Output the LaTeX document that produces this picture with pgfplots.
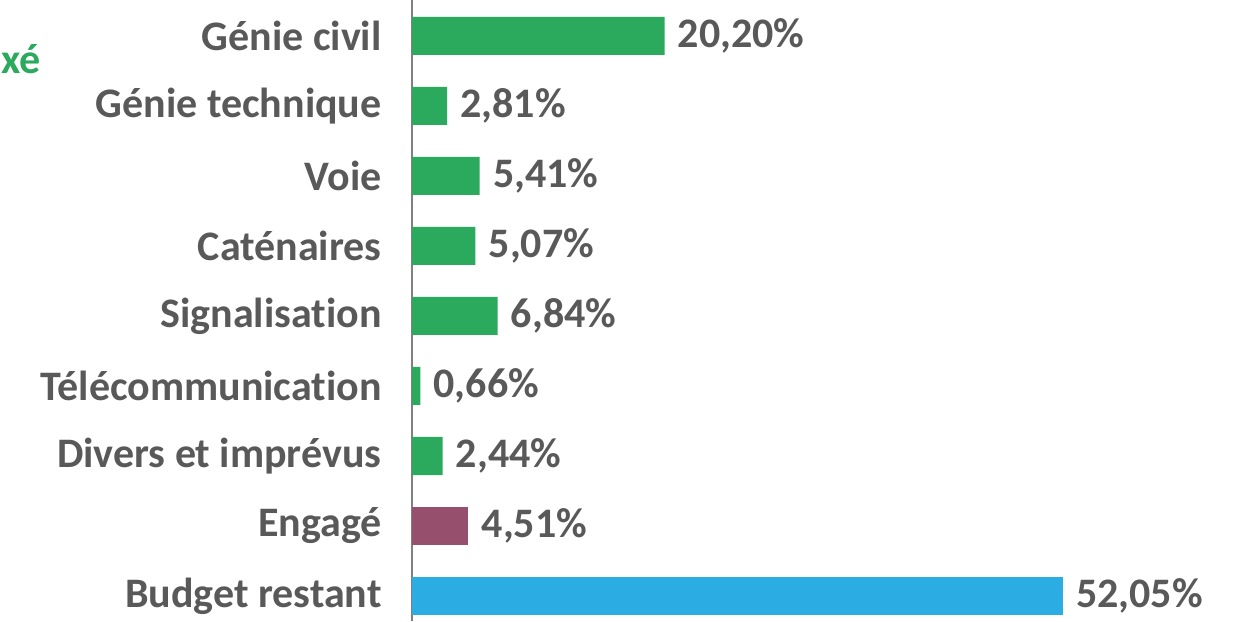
\documentclass[border=0pt]{standalone}
\usepackage{pgfplots}
\pgfplotsset{compat=1.18}
\usepackage{fontspec}
\setmainfont{Carlito}[Ligatures={NoCommon}]
\definecolor{tgray}{HTML}{595959}
\definecolor{cgreen}{HTML}{2BAA5E}
\definecolor{cpurple}{HTML}{974F6E}
\definecolor{cblue}{HTML}{2BACE2}
\definecolor{agray}{HTML}{808080}
\begin{document}
\begin{tikzpicture}
\begin{axis}[
  at={(206pt,0pt)}, anchor=south west,
  scale only axis, width=419.5pt, height=310.5pt,
  xbar, bar width=19pt, bar shift=0pt,
  xmin=0, xmax=67.1,
  ymin=-0.357, ymax=8.514,
  axis x line=none,
  axis y line*=left,
  axis line style={agray, line width=1pt, -},
  ytick={0,...,8},
  yticklabels={Budget restant,Engagé,Divers et imprévus,Télécommunication,Signalisation,Caténaires,Voie,Génie technique,Génie civil},
  major tick length=0pt,
  yticklabel style={font=\fontsize{21}{21}\selectfont\bfseries, text=tgray, inner sep=0pt, xshift=-15pt},
  point meta=explicit symbolic,
  nodes near coords,
  nodes near coords style={font=\fontsize{21}{21}\selectfont\bfseries, text=tgray, anchor=west, inner sep=0pt, xshift=6.5pt},
  clip=false,
]
\addplot[fill=cgreen, draw=none] coordinates {
 (20.20,8) [20,20\%]
 (2.81,7) [2,81\%]
 (5.41,6) [5,41\%]
 (5.07,5) [5,07\%]
 (6.84,4) [6,84\%]
 (0.66,3) [0,66\%]
 (2.44,2) [2,44\%]
};
\addplot[fill=cpurple, draw=none] coordinates {(4.51,1) [4,51\%]};
\addplot[fill=cblue, draw=none] coordinates {(52.05,0) [52,05\%]};
\end{axis}
\node[anchor=base west, inner sep=0pt, text=cgreen, font=\fontsize{21}{21}\selectfont\bfseries] at (0.5pt,273.5pt) {xé};
\pgfresetboundingbox
\path (0,0) rectangle (625.5pt,310.5pt);
\end{tikzpicture}
\end{document}
